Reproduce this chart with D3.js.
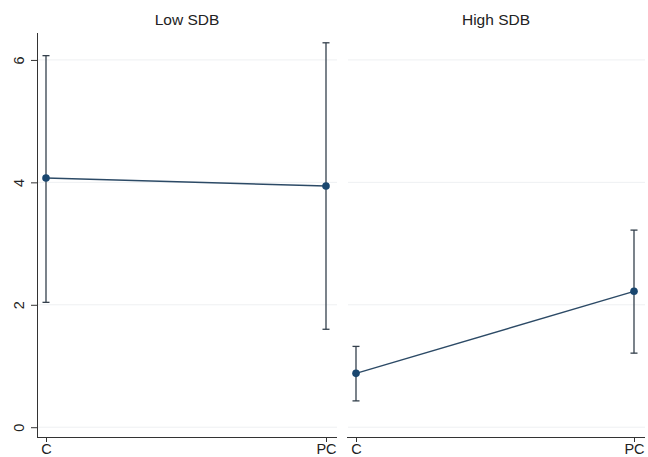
<!DOCTYPE html>
<html><head><meta charset="utf-8">
<script src="https://cdn.jsdelivr.net/npm/d3@7"></script>
<style>body{margin:0;background:#fff}svg{display:block}</style>
</head><body>
<script>
const categories = ["C", "PC"];
const panels = ["Low SDB", "High SDB"];
const means = [[4.07, 3.94], [0.88, 2.22]];
const lower = [[2.04, 1.60], [0.43, 1.21]];
const upper = [[6.07, 6.28], [1.32, 3.22]];
const yTicks = [0, 2, 4, 6];

const W = 648, H = 457;
const svg = d3.select("body").append("svg").attr("width", W).attr("height", H);
svg.append("rect").attr("width", W).attr("height", H).attr("fill", "#fff");

const y = d3.scaleLinear().domain([-0.16, 6.44]).range([437, 33]);
const panelX = [[37, 337], [347, 645]];
const font = "Liberation Sans, Arial, sans-serif";
const navy = "#1a476f", ebar = "#34404c";

panels.forEach((name, p) => {
  const [x0, x1] = panelX[p];
  const x = d3.scalePoint().domain(categories).range([x0 + 9, x1 - 11]);
  const g = svg.append("g");
  g.selectAll("line.grid").data(yTicks).join("line")
    .attr("x1", x0 + 1).attr("x2", x1).attr("y1", d => y(d)).attr("y2", d => y(d))
    .attr("stroke", "#eef0f2").attr("stroke-width", 1);
  g.append("text").attr("x", (x0 + x1) / 2).attr("y", 25).attr("text-anchor", "middle")
    .attr("font-family", font).attr("font-size", 15.5).attr("fill", "#222").text(name);
  const xa = g.append("g").attr("transform", `translate(0,${y.range()[0]})`)
    .call(d3.axisBottom(x).tickSize(5).tickPadding(2));
  xa.select(".domain").attr("d", `M${x0},0.5H${x1}`).attr("stroke", "#333");
  xa.selectAll(".tick line").attr("stroke", "#333");
  xa.selectAll("text").attr("font-family", font).attr("font-size", 14.5).attr("fill", "#222");
  if (p === 0) {
    const ya = g.append("g").attr("transform", `translate(${x0},0)`)
      .call(d3.axisLeft(y).tickValues(yTicks).tickFormat(d3.format("d")).tickSize(6).tickPadding(7));
    ya.select(".domain").attr("d", `M0.5,${y.range()[1]}V${y.range()[0]}`).attr("stroke", "#333");
    ya.selectAll(".tick line").attr("stroke", "#333");
    ya.selectAll("text").attr("font-family", font).attr("font-size", 14.5).attr("fill", "#222")
      .attr("text-anchor", "middle").attr("transform", "rotate(-90)")
      .attr("x", 0).attr("y", -18).attr("dy", "0.35em");
  }
  const data = categories.map((c, i) => ({c, m: means[p][i], lo: lower[p][i], hi: upper[p][i]}));
  data.forEach(d => {
    const cx = x(d.c);
    g.append("line").attr("x1", cx).attr("x2", cx).attr("y1", y(d.lo)).attr("y2", y(d.hi))
      .attr("stroke", ebar).attr("stroke-width", 1.3);
    [d.lo, d.hi].forEach(v => g.append("line").attr("x1", cx - 3.5).attr("x2", cx + 3.5)
      .attr("y1", y(v)).attr("y2", y(v)).attr("stroke", ebar).attr("stroke-width", 1.3));
  });
  g.append("path").datum(data)
    .attr("d", d3.line().x(d => x(d.c)).y(d => y(d.m)))
    .attr("fill", "none").attr("stroke", "#2c4a66").attr("stroke-width", 1.4);
  g.selectAll("circle").data(data).join("circle")
    .attr("cx", d => x(d.c)).attr("cy", d => y(d.m)).attr("r", 3.8).attr("fill", navy);
});
</script>
</body></html>
